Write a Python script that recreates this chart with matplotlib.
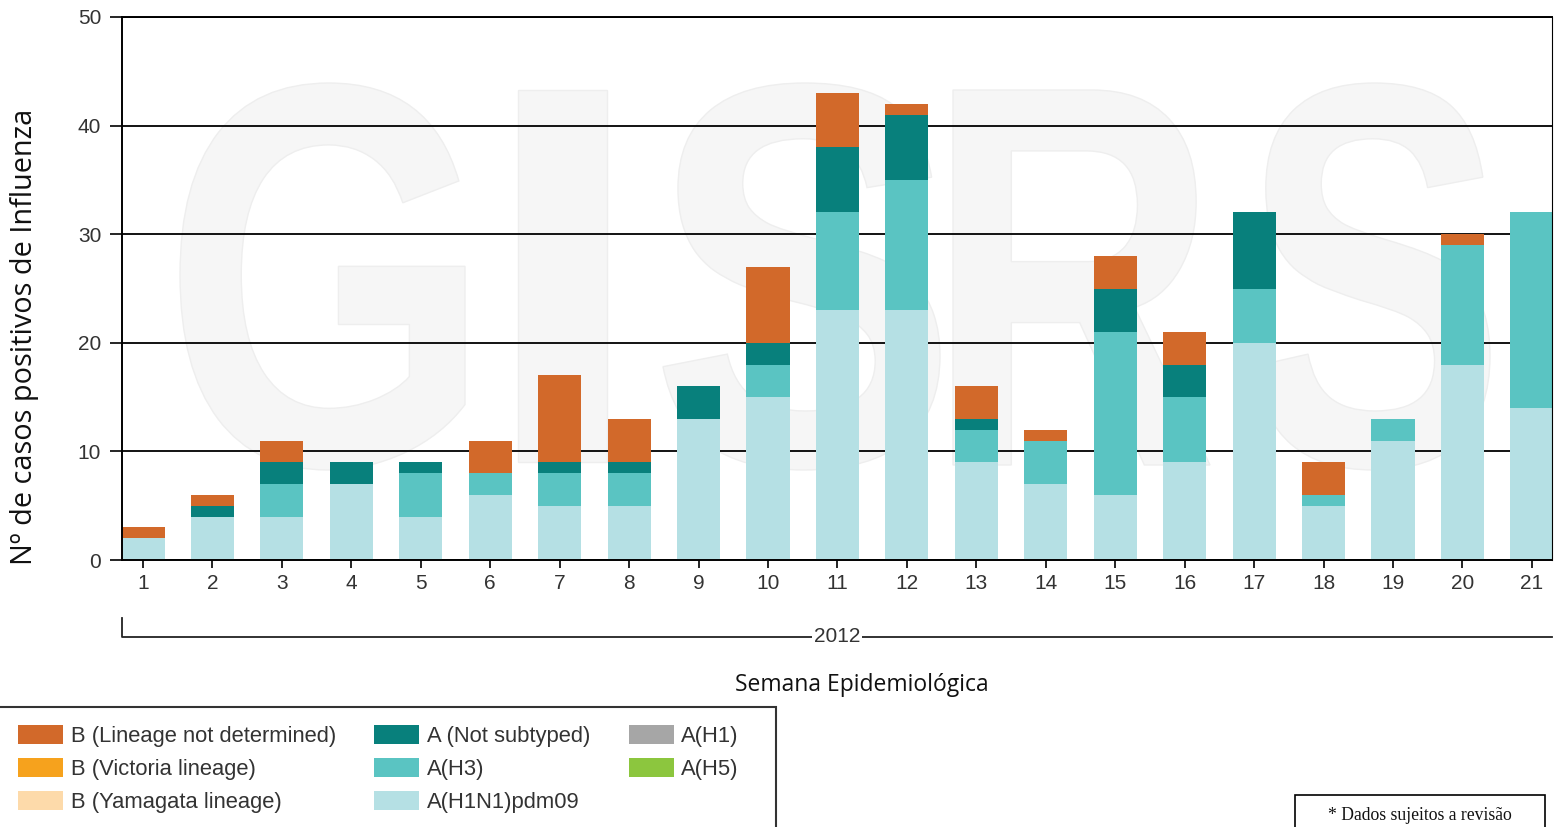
import numpy as np
import matplotlib
matplotlib.use("Agg")
import matplotlib.pyplot as plt
from matplotlib.patches import Rectangle, PathPatch
from matplotlib.textpath import TextPath
from matplotlib.font_manager import FontProperties
from matplotlib.transforms import Affine2D

W, H = 1554, 827

weeks = list(range(1, 22))
a_h1n1pdm09 = [2, 4, 4, 7, 4, 6, 5, 5, 13, 15, 23, 23, 9, 7, 6, 9, 20, 5, 11, 18, 14]
a_h3 = [0, 0, 3, 0, 4, 2, 3, 3, 0, 3, 9, 12, 3, 4, 15, 6, 5, 1, 2, 11, 18]
a_not_subtyped = [0, 1, 2, 2, 1, 0, 1, 1, 3, 2, 6, 6, 1, 0, 4, 3, 7, 0, 0, 0, 0]
a_h1 = [0] * 21
a_h5 = [0] * 21
b_yamagata = [0] * 21
b_victoria = [0] * 21
b_not_determined = [1, 1, 2, 0, 0, 3, 8, 4, 0, 7, 5, 1, 3, 1, 3, 3, 0, 3, 0, 1, 0]

# stacking order bottom -> top
series = [
    ("A(H1N1)pdm09", a_h1n1pdm09, "#b5e0e4"),
    ("A(H3)", a_h3, "#5ac4c2"),
    ("A (Not subtyped)", a_not_subtyped, "#08807c"),
    ("A(H1)", a_h1, "#a6a6a6"),
    ("A(H5)", a_h5, "#8cc63e"),
    ("B (Yamagata lineage)", b_yamagata, "#fddaaa"),
    ("B (Victoria lineage)", b_victoria, "#f6a21d"),
    ("B (Lineage not determined)", b_not_determined, "#d2692a"),
]
legend_order = ["B (Lineage not determined)", "B (Victoria lineage)", "B (Yamagata lineage)",
                "A (Not subtyped)", "A(H3)", "A(H1N1)pdm09", "A(H1)", "A(H5)"]

fig = plt.figure(figsize=(W / 100, H / 100), dpi=100)
ax = fig.add_axes([122 / W, 1 - 560 / H, 1430 / W, 543 / H])

# GISRS watermark, letters fitted to boxes (pixel coords, top-left origin)
wm_boxes = [("G", 180, 83, 465, 470), ("I", 518, 90, 607, 462), ("S", 663, 83, 940, 470),
            ("R", 953, 90, 1210, 465), ("S", 1253, 83, 1490, 470)]
fp = FontProperties(family="Liberation Sans", weight="bold")
for ch, x0, y0, x1, y1 in wm_boxes:
    tp = TextPath((0, 0), ch, size=100, prop=fp)
    ext = tp.get_extents()
    sx = (x1 - x0) / ext.width
    sy = (y1 - y0) / ext.height
    tr = Affine2D().translate(-ext.x0, -ext.y0).scale(sx, sy).translate(x0, H - y1)
    ax.add_patch(PathPatch(tp, transform=tr, facecolor="#f6f6f6", edgecolor="#eeeeee",
                           lw=1, zorder=0.2))

x = np.array(weeks)
bottom = np.zeros(len(weeks))
handles = {}
for label, vals, color in series:
    vals = np.array(vals)
    bc = ax.bar(x, vals, 0.62, bottom=bottom, color=color, label=label, zorder=2,
                linewidth=0)
    handles[label] = bc
    bottom += vals

ax.set_xlim(0.698, 21.29)
ax.set_ylim(0, 50)
ax.set_yticks([0, 10, 20, 30, 40, 50])
ax.set_xticks(weeks)
ax.set_axisbelow(True)
ax.yaxis.grid(True, color="black", lw=1.3, zorder=0.5)
for s in ax.spines.values():
    s.set_color("black")
    s.set_linewidth(1.4)
ax.spines["right"].set_linewidth(0.8)
ax.tick_params(axis="y", length=9, width=1.2, pad=6, labelsize=15, labelcolor="#333333")
ax.tick_params(axis="x", length=6, width=1.2, pad=4, labelsize=15, labelcolor="#333333")
for t in ax.get_xticklabels() + ax.get_yticklabels():
    t.set_family("Liberation Sans")

# year bracket under the week labels
yb1 = (560 - 618) / 543
yb2 = (560 - 637) / 543
ax.plot([0, 0, 1.0], [yb1, yb2, yb2], transform=ax.transAxes, color="#222222", lw=1.3,
        clip_on=False)
ax.text(0.5, yb2, "2012", transform=ax.transAxes, ha="center", va="center", fontsize=15,
        family="Liberation Sans", color="#333333",
        bbox=dict(facecolor="white", edgecolor="none", pad=1.5))

fig.text(25 / W, 1 - 337 / H, "Nº de casos positivos de Influenza", rotation=90,
         ha="center", va="center", fontsize=20.8, family="Open Sans", color="#111111")
fig.text(862 / W, 1 - 685 / H, "Semana Epidemiológica", ha="center", va="center",
         fontsize=16.5, family="Open Sans", color="#111111")

# legend box (runs off bottom of the image)
fig.add_artist(Rectangle((-0.01, -0.1), 776 / W + 0.01, 0.1 + 1 - 707 / H,
                         transform=fig.transFigure, facecolor="none", edgecolor="#333333",
                         lw=1.5))
leg = fig.legend([handles[k] for k in legend_order], legend_order, ncol=3,
                 loc="upper left", bbox_to_anchor=(18 / W, 1 - 725 / H),
                 frameon=False, borderaxespad=0, borderpad=0,
                 handlelength=2.05, handleheight=0.95, handletextpad=0.35,
                 labelspacing=0.5, columnspacing=1.75,
                 prop=dict(family="Liberation Sans", size=15.8))
for t in leg.get_texts():
    t.set_color("#333333")

# footnote box
fig.add_artist(Rectangle((1295 / W, -0.05), 250 / W, 0.05 + 1 - 795 / H,
                         transform=fig.transFigure, facecolor="white", edgecolor="black",
                         lw=1.2))
fig.text(1420 / W, 1 - 815 / H, "* Dados sujeitos a revisão", ha="center", va="center",
         fontsize=12.7, family="Liberation Serif", color="#111111")

fig.savefig("out.png", dpi=100)
